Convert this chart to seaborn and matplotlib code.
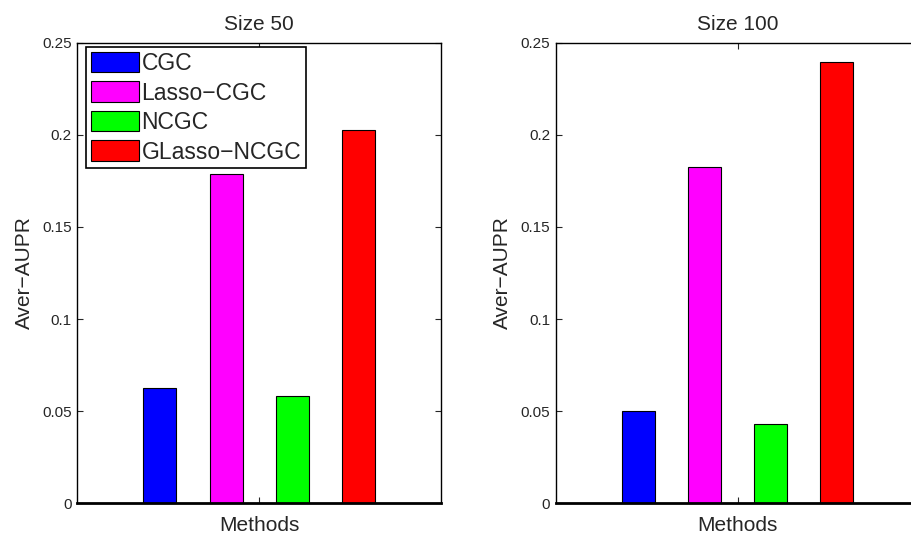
import matplotlib
matplotlib.use("Agg")
import matplotlib.pyplot as plt
import seaborn as sns
import pandas as pd

methods = ["CGC", "Lasso\u2212CGC", "NCGC", "GLasso\u2212NCGC"]
colors = ["#0000ff", "#ff00ff", "#00ff00", "#ff0000"]
size50 = [0.0628, 0.1788, 0.0581, 0.2028]
size100 = [0.0501, 0.1826, 0.0429, 0.2396]
titles = ["Size 50", "Size 100"]
yticks = [0, 0.05, 0.1, 0.15, 0.2, 0.25]
ytick_labels = ["0", "0.05", "0.1", "0.15", "0.2", "0.25"]

sns.set_style("white")
plt.rcParams["font.family"] = ["Liberation Sans", "DejaVu Sans"]

fig = plt.figure(figsize=(9.12, 5.34), dpi=100)
W, H = 912, 534
bottom = (H - 503.3) / H
height = 460.6 / H
axes = [fig.add_axes([77.3 / W, bottom, 363.7 / W, height]),
        fig.add_axes([555.7 / W, bottom, 363.7 / W, height])]

for i, (ax, vals, title) in enumerate(zip(axes, [size50, size100], titles)):
    df = pd.DataFrame({"method": methods, "value": vals})
    sns.barplot(data=df, x="method", y="value", hue="method", order=methods,
                hue_order=methods, palette=colors, width=0.5, ax=ax,
                edgecolor="black", linewidth=0.8, legend=(i == 0), saturation=1)
    ax.set_xlim(-1.25, 4.25)
    ax.set_ylim(0, 0.25)
    ax.set_yticks(yticks)
    ax.set_yticklabels(ytick_labels, fontsize=11)
    ax.set_xticks([1.5])
    ax.set_xticklabels([""])
    ax.tick_params(axis="x", direction="in", top=True, bottom=True, length=4, width=0.8)
    ax.tick_params(axis="y", direction="in", left=True, right=(i == 0), length=4, width=0.8, pad=4)
    ax.set_xlabel("Methods", fontsize=15, labelpad=6)
    ax.set_ylabel("Aver\u2212AUPR", fontsize=15, labelpad=6)
    ax.set_title(title, fontsize=15, pad=9)
    for s in ax.spines.values():
        s.set_visible(True)
        s.set_color("black")
        s.set_linewidth(1.0)
    ax.spines["bottom"].set_linewidth(2.0)
    if i == 1:
        ax.spines["right"].set_visible(False)
    if i == 0:
        handles, labels = ax.get_legend_handles_labels()
        leg = ax.legend(handles, labels, loc="upper left", bbox_to_anchor=(0.025, 0.99),
                        fontsize=16.5, frameon=True, fancybox=False, handlelength=2.1,
                        handleheight=1.0, labelspacing=0.28, handletextpad=0.1,
                        borderpad=0.2, borderaxespad=0.0)
        leg.get_frame().set_edgecolor("black")
        leg.get_frame().set_linewidth(1.2)
        leg.get_frame().set_alpha(1)

fig.savefig("out.png", dpi=100)
